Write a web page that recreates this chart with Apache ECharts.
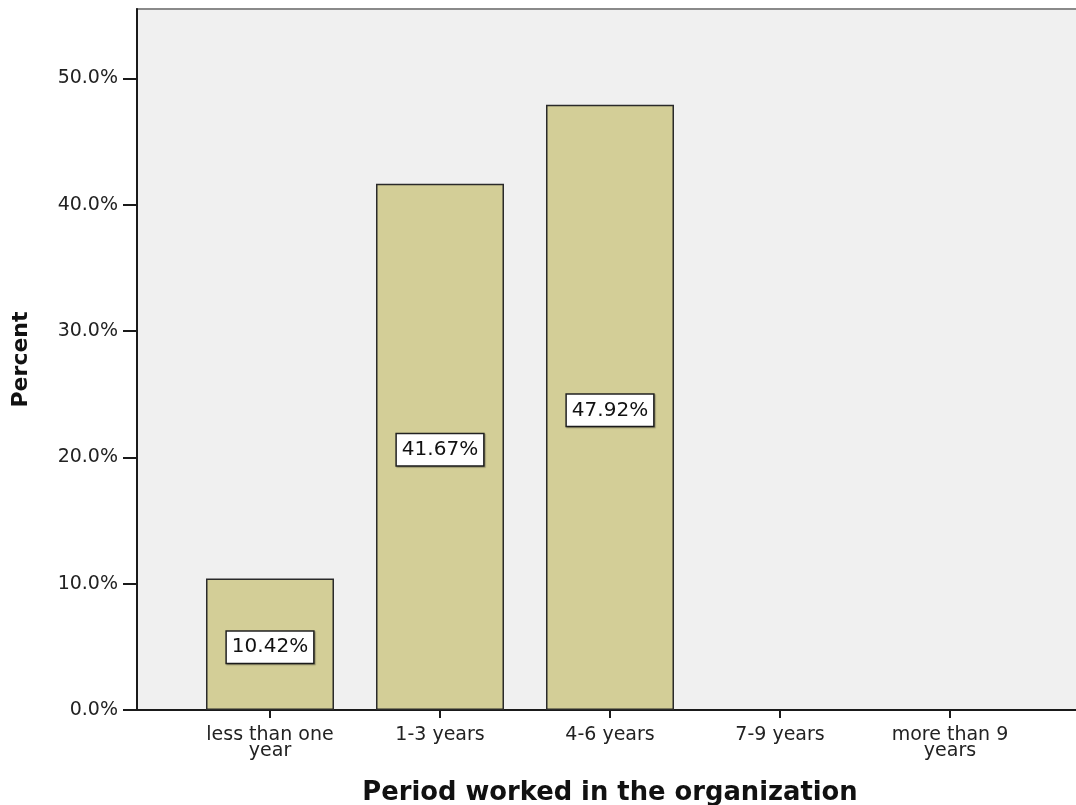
<!DOCTYPE html>
<html>
<head>
<meta charset="utf-8">
<title>Period worked in the organization</title>
<script src="https://cdn.jsdelivr.net/npm/echarts@6/dist/echarts.min.js"></script>
<style>
  html, body { margin: 0; padding: 0; background: #fff; }
  #chart { width: 1076px; height: 805px; }
</style>
</head>
<body>
<div id="chart"></div>
<script>
// data
const periods = ['less than one\nyear', '1-3 years', '4-6 years', '7-9 years', 'more than 9\nyears']
const percents = [10.42, 41.67, 47.92, 0, 0]
const yTicks = [0, 10, 20, 30, 40, 50]
const yMax = 55.5

const FONT = '"DejaVu Sans", Verdana, sans-serif'
const gridTop = 9, gridBottom = 95

const chart = echarts.init(document.getElementById('chart'), null, { renderer: 'canvas' })

chart.setOption({
  backgroundColor: '#ffffff',
  animation: false,
  grid: [
    // frame: grey plot background running off the right edge
    { left: 137, right: -3, top: gridTop, bottom: gridBottom, outerBoundsMode: 'none',
      show: true, backgroundColor: '#f0f0f0', borderColor: '#8a8a8a', borderWidth: 2 },
    // bars
    { left: 185, right: 41, top: gridTop, bottom: gridBottom, outerBoundsMode: 'none' },
  ],
  xAxis: [
    {
      gridIndex: 0, type: 'value', min: 0, max: 1,
      axisLine: { lineStyle: { color: '#1a1a1a', width: 2 } },
      axisTick: { show: false }, axisLabel: { show: false }, splitLine: { show: false },
    },
    {
      gridIndex: 1, type: 'category', data: periods,
      axisLine: { show: false },
      axisTick: { show: true, alignWithLabel: true, length: 8, lineStyle: { color: '#1a1a1a', width: 2 } },
      axisLabel: {
        color: '#222', fontFamily: FONT, fontSize: 19, lineHeight: 16,
        margin: 17, verticalAlign: 'top', interval: 0,
      },
      name: 'Period worked in the organization',
      nameLocation: 'middle',
      nameGap: 70,
      nameTextStyle: { color: '#111', fontFamily: FONT, fontSize: 25.8, fontWeight: 'bold' },
    },
  ],
  yAxis: [
    {
      gridIndex: 0, type: 'value', min: 0, max: yMax,
      axisLine: { show: true, lineStyle: { color: '#1a1a1a', width: 2 } },
      axisTick: { show: true, length: 14, customValues: yTicks, lineStyle: { color: '#1a1a1a', width: 2 } },
      axisLabel: {
        customValues: yTicks,
        color: '#222', fontFamily: FONT, fontSize: 19, margin: 19,
        formatter: v => v.toFixed(1) + '%',
      },
      splitLine: { show: false },
      name: 'Percent',
      nameLocation: 'middle',
      nameRotate: 90,
      nameGap: 105,
      nameTextStyle: { color: '#111', fontFamily: FONT, fontSize: 22, fontWeight: 'bold' },
    },
    { gridIndex: 1, type: 'value', min: 0, max: yMax, show: false },
  ],
  series: [
    {
      type: 'bar',
      xAxisIndex: 1,
      yAxisIndex: 1,
      barWidth: 128,
      data: percents.map(v => (v > 0 ? v : '-')),
      itemStyle: { color: '#d3ce97', borderColor: '#2a2a2a', borderWidth: 1.5 },
      label: {
        show: true,
        position: 'inside',
        offset: [0, 3],
        formatter: p => p.value.toFixed(2) + '%',
        color: '#111',
        fontFamily: FONT,
        fontSize: 20,
        lineHeight: 21,
        backgroundColor: '#ffffff',
        borderColor: '#222',
        borderWidth: 1.5,
        padding: [5, 5],
        shadowColor: 'rgba(0,0,0,0.3)',
        shadowOffsetX: 1,
        shadowOffsetY: 1,
        shadowBlur: 1,
      },
    },
  ],
})
</script>
</body>
</html>
